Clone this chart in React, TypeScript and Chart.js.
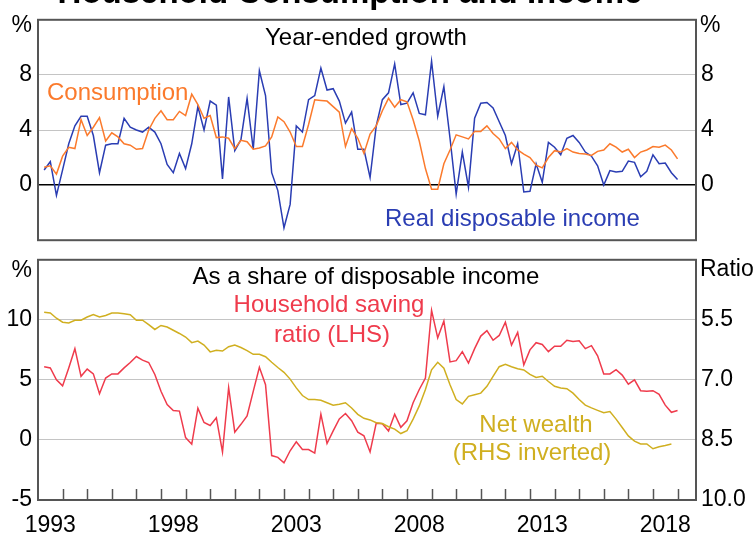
import React, { useEffect, useRef } from 'react';
import { Chart, registerables } from 'chart.js';

Chart.register(...registerables);

const FONT = '"Liberation Sans", Arial, sans-serif';

// Quarterly data, 1993 Q1 .. 2018 Q4 (plotted at quarter end)
const startYear = 1993;

const consumption = [
  1.3, 1.4, 0.8, 2.1, 2.75, 2.65, 4.75, 3.6, 4.2, 4.9,
  3.2, 3.8, 3.5, 3.0, 2.9, 2.6, 2.65, 4.0, 4.85, 5.4,
  4.75, 4.75, 5.35, 5.05, 6.6, 5.85, 4.85, 5.05, 3.45, 3.5,
  3.4, 2.65, 3.25, 3.15, 2.6, 2.7, 2.85, 3.5, 4.95, 4.6,
  3.85, 2.8, 2.8, 4.4, 6.2, 6.15, 6.1, 5.7, 5.3, 2.8,
  4.1, 3.4, 2.3, 3.7, 4.3, 5.4, 6.3, 5.65, 6.2, 6.05,
  4.75, 3.2, 1.2, -0.3, -0.3, 1.55, 2.55, 3.65, 3.5, 3.35,
  3.9, 3.9, 4.3, 3.75, 3.35, 2.65, 3.1, 2.55, 2.25, 2.0,
  1.45, 1.25, 2.0, 2.5, 2.4, 2.65, 2.4, 2.3, 2.25, 2.15,
  2.45, 2.55, 3.0, 2.75, 2.4, 2.6, 2.0, 2.4, 2.55, 2.8,
  2.75, 2.9, 2.55, 1.9,
];

const income = [
  1.1, 1.7, -0.75, 1.1, 3.0, 4.3, 5.0, 5.0, 3.6, 0.9,
  2.9, 3.0, 3.0, 4.85, 4.2, 4.0, 3.85, 4.2, 3.85, 3.0,
  1.5, 0.9, 2.3, 1.2, 3.0, 5.7, 4.0, 6.1, 5.8, 0.45,
  6.4, 2.5, 3.3, 6.3, 2.6, 8.3, 6.5, 0.9, -0.4, -3.1,
  -1.4, 4.3, 3.85, 6.2, 6.5, 8.5, 6.9, 7.0, 6.1, 4.5,
  5.3, 2.6, 2.6, 0.55, 4.3, 6.2, 6.7, 8.8, 5.85, 5.95,
  6.7, 5.2, 5.1, 9.0, 5.0, 7.15, 3.4, -0.65, 2.4, -0.15,
  4.85, 5.95, 6.0, 5.6, 4.6, 3.6, 1.55, 3.0, -0.5, -0.45,
  1.55, 0.2, 3.1, 2.75, 2.2, 3.4, 3.6, 3.1, 2.4, 2.1,
  1.4, 0.0, 1.05, 0.95, 1.0, 1.75, 1.65, 0.6, 1.0, 2.2,
  1.55, 1.6, 0.9, 0.4,
];

const saving = [
  6.1, 6.0, 5.0, 4.5, 6.0, 7.6, 5.3, 5.9, 5.5, 3.85,
  5.15, 5.5, 5.5, 6.0, 6.45, 6.95, 6.65, 6.45, 5.45, 4.05,
  2.95, 2.45, 2.4, 0.2, -0.35, 2.65, 1.45, 1.2, 1.85, -1.0,
  4.35, 0.65, 1.3, 2.0, 4.05, 6.05, 4.6, -1.3, -1.45, -1.9,
  -0.9, -0.15, -0.8, -0.8, -1.1, 2.15, -0.3, 0.75, 1.75, 2.2,
  1.6, 0.65, 0.35, -1.0, 1.4, 1.35, 0.75, 2.15, 1.05, 1.6,
  3.1, 4.2, 5.15, 10.8, 8.5, 9.9, 6.5, 6.6, 7.35, 6.4,
  7.6, 8.65, 9.1, 8.3, 8.7, 9.8, 7.9, 8.95, 6.25, 7.5,
  8.1, 7.95, 7.35, 7.8, 7.8, 8.3, 8.2, 8.25, 7.6, 7.85,
  7.0, 5.5, 5.5, 5.85, 5.4, 4.65, 5.0, 4.1, 4.05, 4.1,
  3.8, 2.9, 2.3, 2.45,
];

const wealth = [
  5.31, 5.33, 5.46, 5.56, 5.58, 5.51, 5.51, 5.43, 5.37, 5.43,
  5.39, 5.33, 5.33, 5.35, 5.37, 5.51, 5.51, 5.62, 5.74, 5.64,
  5.68, 5.76, 5.84, 5.93, 6.07, 6.03, 6.13, 6.3, 6.26, 6.28,
  6.17, 6.13, 6.19, 6.27, 6.36, 6.36, 6.42, 6.56, 6.69, 6.81,
  6.98, 7.2, 7.39, 7.49, 7.49, 7.51, 7.57, 7.63, 7.61, 7.57,
  7.7, 7.86, 7.96, 8.0, 8.07, 8.09, 8.17, 8.23, 8.34, 8.27,
  7.98, 7.65, 7.24, 6.75, 6.56, 6.71, 7.12, 7.49, 7.6, 7.41,
  7.37, 7.33, 7.16, 6.91, 6.67, 6.61, 6.67, 6.72, 6.75, 6.86,
  6.94, 6.91, 7.04, 7.16, 7.2, 7.22, 7.33, 7.49, 7.63, 7.7,
  7.76, 7.82, 7.79, 7.98, 8.19, 8.4, 8.53, 8.6, 8.6, 8.72,
  8.67, 8.64, 8.6,
];

const yearTicks = [
  1993, 1994, 1995, 1996, 1997, 1998, 1999, 2000, 2001, 2002,
  2003, 2004, 2005, 2006, 2007, 2008, 2009, 2010, 2011, 2012,
  2013, 2014, 2015, 2016, 2017, 2018, 2019,
];
const labelledYears = [1993, 1998, 2003, 2008, 2013, 2018];
const growthTicks = [0, 4, 8];
const savingTicks = [-5, 0, 5, 10];
const wealthTicks = [5.5, 7.0, 8.5, 10.0];

const BLUE = '#2a3db3';
const ORANGE = '#fb7a2c';
const RED = '#ef3b4c';
const GOLD = '#d0af20';
const FRAME = '#555555';
const GRID = '#c4c4c4';

const toPoints = (vals: number[]) =>
  vals.map((v, i) => ({ x: startYear + (i + 1) / 4, y: v }));

type Note = { text: string; x: number; y: number; color: string; align: CanvasTextAlign; font?: string };

const notesPlugin = (id: string, notes: Note[], ticksAtBottom: boolean) => ({
  id,
  afterDraw(chart: any) {
    const { ctx, chartArea } = chart;
    ctx.save();
    // frame
    ctx.strokeStyle = FRAME;
    ctx.lineWidth = 2;
    ctx.strokeRect(chartArea.left, chartArea.top, chartArea.right - chartArea.left, chartArea.bottom - chartArea.top);
    if (ticksAtBottom) {
      const xs = chart.scales.x;
      ctx.lineWidth = 1.5;
      yearTicks.slice(1).forEach((yr) => {
        const px = Math.round(xs.getPixelForValue(yr)) + 0.5;
        ctx.beginPath();
        ctx.moveTo(px, chartArea.bottom);
        ctx.lineTo(px, chartArea.bottom - 11);
        ctx.stroke();
      });
    }
    ctx.textBaseline = 'alphabetic';
    notes.forEach((n) => {
      ctx.font = n.font || `24px ${FONT}`;
      ctx.fillStyle = n.color;
      ctx.textAlign = n.align;
      ctx.fillText(n.text, n.x, n.y);
    });
    ctx.restore();
  },
});

const tickFont = { family: FONT, size: 23 };

export default function App() {
  const topRef = useRef<HTMLCanvasElement>(null);
  const botRef = useRef<HTMLCanvasElement>(null);

  useEffect(() => {
    const top = new Chart(topRef.current as HTMLCanvasElement, {
      type: 'line',
      data: {
        datasets: [
          { data: toPoints(consumption), borderColor: ORANGE, borderWidth: 1.5, pointRadius: 0, yAxisID: 'y' },
          { data: toPoints(income), borderColor: BLUE, borderWidth: 1.5, pointRadius: 0, yAxisID: 'y' },
        ],
      },
      options: {
        animation: false,
        responsive: false,
        maintainAspectRatio: false,
        layout: { padding: { top: 14, bottom: 4, left: 0, right: 0 } },
        plugins: { legend: { display: false }, tooltip: { enabled: false } },
        scales: {
          x: { type: 'linear', min: 1993, max: 2019.75, display: false },
          y: {
            position: 'left',
            min: -4,
            max: 12,
            afterBuildTicks: (s: any) => { s.ticks = growthTicks.map((v) => ({ value: v })); },
            afterFit: (s: any) => { s.width = 38; },
            grid: {
              color: (c: any) => (c.tick && c.tick.value === 0 ? '#000000' : GRID),
              lineWidth: (c: any) => (c.tick && c.tick.value === 0 ? 1.6 : 1),
              drawTicks: false,
            },
            border: { display: false },
            ticks: { padding: 6, font: tickFont, color: '#000', callback: (v: any) => String(v) },
          },
          y2: {
            position: 'right',
            min: -4,
            max: 12,
            afterBuildTicks: (s: any) => { s.ticks = growthTicks.map((v) => ({ value: v })); },
            afterFit: (s: any) => { s.width = 60; },
            grid: { drawOnChartArea: false, drawTicks: false },
            border: { display: false },
            ticks: { padding: 5, font: tickFont, color: '#000', callback: (v: any) => String(v) },
          },
        },
      } as any,
      plugins: [
        notesPlugin('topNotes', [
          { text: 'Household Consumption and Income', x: 350, y: 3, color: '#000', align: 'center', font: `bold 33px ${FONT}` },
          { text: '%', x: 32, y: 32, color: '#000', align: 'right', font: `23px ${FONT}` },
          { text: '%', x: 700, y: 32, color: '#000', align: 'left', font: `23px ${FONT}` },
          { text: 'Year-ended growth', x: 366, y: 45, color: '#000', align: 'center' },
          { text: 'Consumption', x: 47, y: 100, color: ORANGE, align: 'left' },
          { text: 'Real disposable income', x: 385, y: 226, color: BLUE, align: 'left' },
        ], false),
      ],
    });

    const bot = new Chart(botRef.current as HTMLCanvasElement, {
      type: 'line',
      data: {
        datasets: [
          { data: toPoints(wealth), borderColor: GOLD, borderWidth: 1.5, pointRadius: 0, yAxisID: 'y2' },
          { data: toPoints(saving), borderColor: RED, borderWidth: 1.5, pointRadius: 0, yAxisID: 'y' },
        ],
      },
      options: {
        animation: false,
        responsive: false,
        maintainAspectRatio: false,
        layout: { padding: { top: 17, bottom: 0, left: 0, right: 0 } },
        plugins: { legend: { display: false }, tooltip: { enabled: false } },
        scales: {
          x: {
            type: 'linear',
            position: 'bottom',
            min: 1993,
            max: 2019.75,
            afterBuildTicks: (s: any) => { s.ticks = yearTicks.map((v) => ({ value: v })); },
            afterFit: (s: any) => { s.height = 36; },
            grid: { drawOnChartArea: false, drawTicks: false },
            border: { display: false },
            ticks: {
              autoSkip: false,
              maxRotation: 0,
              minRotation: 0,
              padding: 12,
              labelOffset: 12.3,
              font: tickFont,
              color: '#000',
              callback: (v: any) => (labelledYears.includes(Number(v)) ? String(v) : ''),
            },
          },
          y: {
            position: 'left',
            min: -5,
            max: 15,
            afterBuildTicks: (s: any) => { s.ticks = savingTicks.map((v) => ({ value: v })); },
            afterFit: (s: any) => { s.width = 38; },
            grid: { color: GRID, lineWidth: 1, drawTicks: false },
            border: { display: false },
            ticks: { padding: 6, font: tickFont, color: '#000', callback: (v: any) => String(v) },
          },
          y2: {
            position: 'right',
            min: 4,
            max: 10,
            reverse: true,
            afterBuildTicks: (s: any) => { s.ticks = wealthTicks.map((v) => ({ value: v })); },
            afterFit: (s: any) => { s.width = 60; },
            grid: { drawOnChartArea: false, drawTicks: false },
            border: { display: false },
            ticks: { padding: 5, font: tickFont, color: '#000', callback: (v: any) => Number(v).toFixed(1) },
          },
        },
      } as any,
      plugins: [
        notesPlugin('botNotes', [
          { text: '%', x: 32, y: 37, color: '#000', align: 'right', font: `23px ${FONT}` },
          { text: 'Ratio', x: 700, y: 36, color: '#000', align: 'left', font: `23px ${FONT}` },
          { text: 'As a share of disposable income', x: 366, y: 44, color: '#000', align: 'center' },
          { text: 'Household saving', x: 329, y: 72, color: RED, align: 'center' },
          { text: 'ratio (LHS)', x: 332, y: 102, color: RED, align: 'center' },
          { text: 'Net wealth', x: 536, y: 192, color: GOLD, align: 'center' },
          { text: '(RHS inverted)', x: 532, y: 220, color: GOLD, align: 'center' },
        ], true),
      ],
    });

    return () => {
      top.destroy();
      bot.destroy();
    };
  }, []);

  return (
    <div style={{ position: 'fixed', left: 0, top: 0, width: 756, height: 536, background: '#ffffff', overflow: 'hidden' }}>
      <canvas ref={topRef} width={756} height={260} style={{ position: 'absolute', left: 0, top: 0, width: 756, height: 260 }} />
      <canvas ref={botRef} width={756} height={296} style={{ position: 'absolute', left: 0, top: 240, width: 756, height: 296 }} />
    </div>
  );
}
